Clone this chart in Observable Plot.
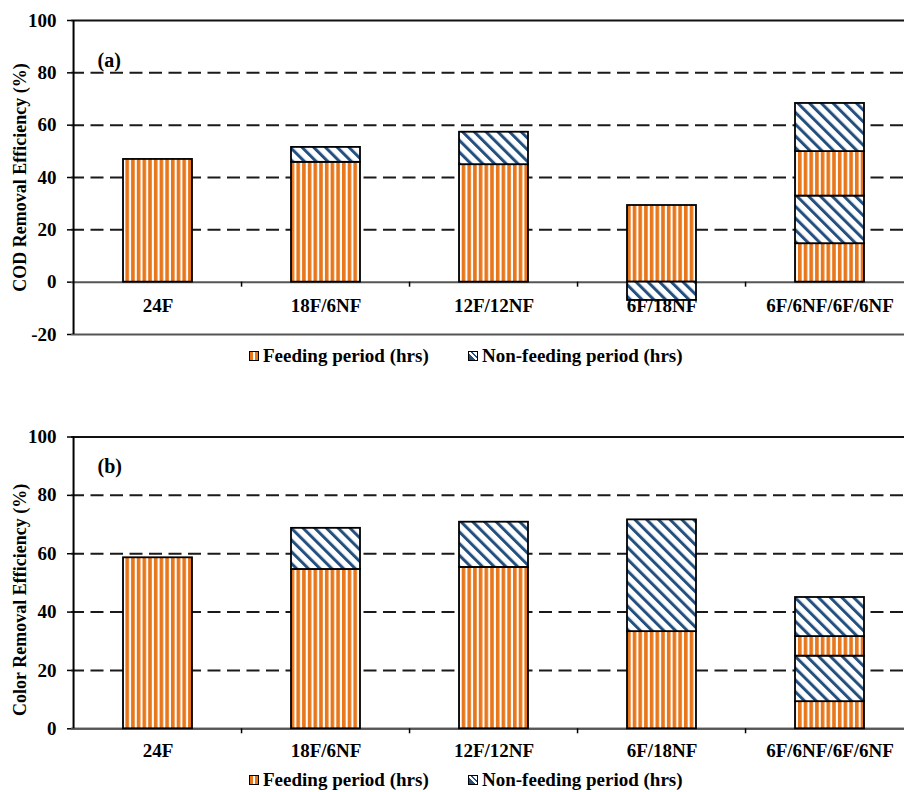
<!DOCTYPE html>
<html>
<head>
<meta charset="utf-8">
<script src="https://cdn.jsdelivr.net/npm/d3@7"></script>
<script src="https://cdn.jsdelivr.net/npm/@observablehq/plot@0.6"></script>
<style>
  body { margin: 0; background: white; overflow: hidden; }
  #chart { position: relative; width: 904px; height: 792px; overflow: hidden;
           font-family: "Liberation Serif", "Times New Roman", serif; }
  #chart svg { position: absolute; left: 0; overflow: hidden; }
  .legend-item { position: absolute; display: flex; align-items: center; height: 24px;
                 font-weight: bold; font-size: 19px; color: #000; white-space: nowrap; }
  .swatch { width: 8px; height: 8px; border: 1.5px solid #000; margin-right: 4px; }
  .swatch.feed { background: linear-gradient(90deg, #E8761A 0 32%, #fff 32% 68%, #E8761A 68%); }
  .swatch.nonfeed { background: linear-gradient(45deg, #24507F 0 38%, #fff 38% 58%, #24507F 58% 72%, #fff 72%); }
</style>
</head>
<body>
<div id="chart"></div>
<script>
// Operating strategies (hours fed / not fed per 24 h cycle)
const categories = ["24F", "18F/6NF", "12F/12NF", "6F/18NF", "6F/6NF/6F/6NF"];

// COD removal efficiency (%) gained in each successive period of the cycle
const codFeed1     = [46.9, 45.8, 44.9, 29.3, 14.7];
const codNonFeed1  = [null, 5.7, 12.4, -7.0, 18.2];
const codFeed2     = [null, null, null, null, 17.0];
const codNonFeed2  = [null, null, null, null, 18.4];

// Color removal efficiency (%) gained in each successive period of the cycle
const colorFeed1    = [58.6, 54.6, 55.3, 33.3, 9.3];
const colorNonFeed1 = [null, 14.1, 15.5, 38.3, 15.6];
const colorFeed2    = [null, null, null, null, 6.7];
const colorNonFeed2 = [null, null, null, null, 13.4];

const codTicks   = [-20, 0, 20, 40, 60, 80, 100];
const colorTicks = [0, 20, 40, 60, 80, 100];
const gridValues = [20, 40, 60, 80];
const periodLabels = ["Feeding period (hrs)", "Non-feeding period (hrs)"];

const FONT = '"Liberation Serif", "Times New Roman", serif';
const ORANGE = "#E8761A";
const NAVY = "#24507F";
const W = 904, ML = 71, MR = -11.5;

// Turn the per-period arrays into stacked segments, keeping cycle order
function segments(phases) {
  const rows = [];
  for (const [values, kind] of phases) {
    values.forEach((v, i) => {
      if (v != null) rows.push({category: categories[i], kind, value: v});
    });
  }
  return rows;
}

function addPatterns(svg, id) {
  const defs = d3.select(svg).insert("defs", ":first-child");
  const feed = defs.append("pattern").attr("id", `feed-${id}`)
    .attr("patternUnits", "userSpaceOnUse").attr("width", 5.7).attr("height", 10);
  feed.append("rect").attr("width", 5.7).attr("height", 10).attr("fill", "#fff");
  feed.append("rect").attr("width", 3.6).attr("height", 10).attr("fill", ORANGE);
  const non = defs.append("pattern").attr("id", `nonfeed-${id}`)
    .attr("patternUnits", "userSpaceOnUse").attr("width", 8.3).attr("height", 10)
    .attr("patternTransform", "rotate(-45)");
  non.append("rect").attr("width", 8.3).attr("height", 10).attr("fill", "#fff");
  non.append("rect").attr("width", 3).attr("height", 10).attr("fill", NAVY);
}

function panel({id, rows, ticks, title, tag, top, height, marginTop, marginBottom,
                tagDy, labelDy, titleDy}) {
  const step = (W - ML - MR) / categories.length;
  const fillFor = d => d.kind === "F" ? `url(#feed-${id})` : `url(#nonfeed-${id})`;
  const svg = Plot.plot({
    width: W, height, marginLeft: ML, marginRight: MR, marginTop, marginBottom,
    style: {fontFamily: FONT, fontSize: "19px", fontWeight: "bold", color: "#000",
            background: "white", top: `${top}px`},
    x: {domain: categories, paddingInner: 0.59, paddingOuter: 0.295, axis: null},
    y: {domain: [d3.min(ticks), d3.max(ticks)], axis: null},
    color: {type: "identity"},
    marks: [
      Plot.ruleY(gridValues, {stroke: "#1a1a1a", strokeWidth: 2, strokeDasharray: "13,6.5"}),
      Plot.ruleY([d3.max(ticks)], {stroke: "#111", strokeWidth: 2}),
      Plot.ruleY([d3.min(ticks)], {stroke: "#555", strokeWidth: 2}),
      Plot.ruleY([0], {stroke: "#555", strokeWidth: 2}),
      Plot.barY(rows, Plot.stackY({
        x: "category", y: "value", fill: fillFor, stroke: "#000", strokeWidth: 1.8
      })),
      // vertical axis line at the left edge of the first band
      Plot.ruleX([categories[0]], {x: d => d, dx: -step / 2, stroke: "#000", strokeWidth: 2}),
      // small ticks between categories, hanging below the zero line
      Plot.ruleX(categories.slice(1), {
        x: d => d, dx: -step / 2, y1: 0, y2: 0, insetBottom: -5, stroke: "#000", strokeWidth: 1.5
      }),
      Plot.axisY({
        ticks, tickSize: 4, tickPadding: 11, tickFormat: d => String(d),
        label: null, stroke: "#000", strokeWidth: 1.5, fill: "#000",
        fontWeight: "bold", fontSize: 19
      }),
      Plot.text(categories, {x: d => d, y: 0, dy: labelDy, fill: "#000", fontSize: 19, fontWeight: "bold"}),
      Plot.text([title], {frameAnchor: "left", textAnchor: "middle", rotate: -90, dx: -51, dy: titleDy,
                          fill: "#000", fontSize: 18, fontWeight: "bold"}),
      Plot.text([tag], {frameAnchor: "top-left", textAnchor: "start", dx: 26, dy: tagDy,
                        fill: "#000", fontSize: 20, fontWeight: "bold"})
    ]
  });
  addPatterns(svg, id);
  return svg;
}

function legend(container, centerY) {
  const lefts = [249, 468];
  periodLabels.forEach((label, i) => {
    const item = document.createElement("div");
    item.className = "legend-item";
    item.style.left = `${lefts[i]}px`;
    item.style.top = `${centerY - 12}px`;
    const sw = document.createElement("div");
    sw.className = "swatch " + (i === 0 ? "feed" : "nonfeed");
    const txt = document.createElement("span");
    txt.textContent = label;
    item.append(sw, txt);
    container.append(item);
  });
}

const chart = document.getElementById("chart");

chart.append(panel({
  id: "cod",
  rows: segments([[codFeed1, "F"], [codNonFeed1, "NF"], [codFeed2, "F"], [codNonFeed2, "NF"]]),
  ticks: codTicks,
  title: "COD Removal Efficiency (%)",
  tag: "(a)",
  top: 0, height: 346, marginTop: 20, marginBottom: 12,
  tagDy: 32, labelDy: 24, titleDy: 0
}));
legend(chart, 356);

chart.append(panel({
  id: "color",
  rows: segments([[colorFeed1, "F"], [colorNonFeed1, "NF"], [colorFeed2, "F"], [colorNonFeed2, "NF"]]),
  ticks: colorTicks,
  title: "Color Removal Efficiency (%)",
  tag: "(b)",
  top: 368, height: 400, marginTop: 68.5, marginBottom: 39.7,
  tagDy: 21.5, labelDy: 22, titleDy: 17
}));
legend(chart, 780);
</script>
</body>
</html>
